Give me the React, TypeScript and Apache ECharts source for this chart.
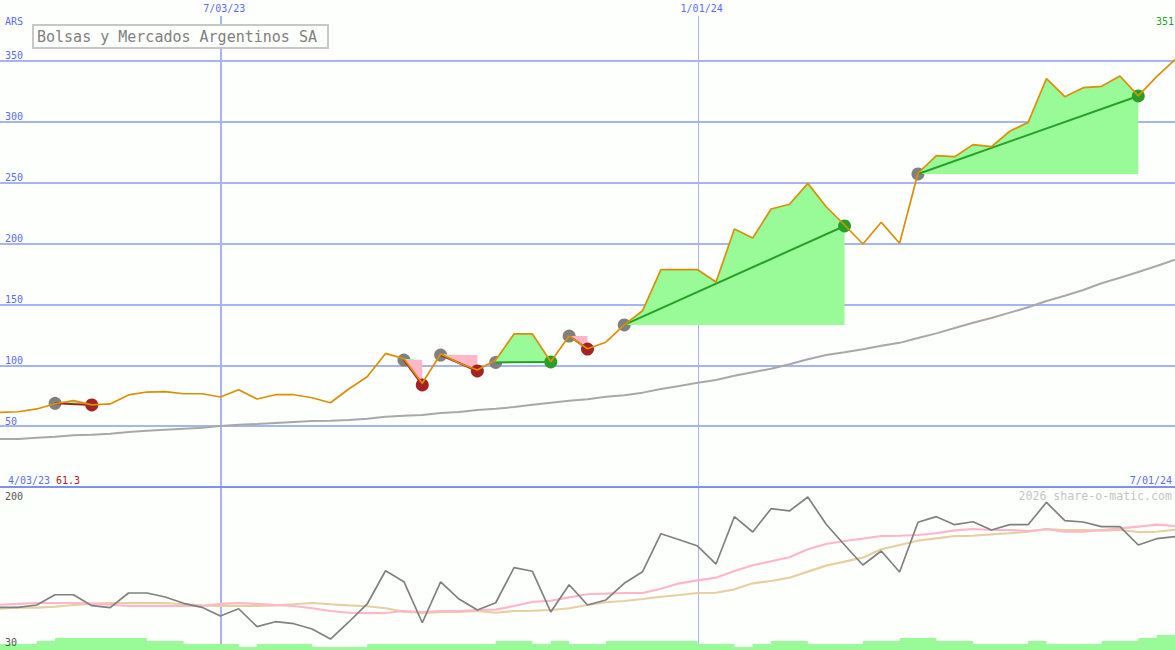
import React, { useEffect, useRef } from "react";
import * as echarts from "echarts";

const weeks = [
  "4/10/23","4/17/23","4/24/23","5/01/23","5/08/23","5/15/23","5/22/23","5/29/23","6/05/23","6/12/23","6/19/23","6/26/23","7/03/23",
  "7/10/23","7/17/23","7/24/23","7/31/23","8/07/23","8/14/23","8/21/23","8/28/23","9/04/23","9/11/23","9/18/23","9/25/23","10/02/23",
  "10/09/23","10/16/23","10/23/23","10/30/23","11/06/23","11/13/23","11/20/23","11/27/23","12/04/23","12/11/23","12/18/23","12/25/23","1/01/24",
  "1/08/24","1/15/24","1/22/24","1/29/24","2/05/24","2/12/24","2/19/24","2/26/24","3/04/24","3/11/24","3/18/24","3/25/24","4/01/24","4/08/24",
  "4/15/24","4/22/24","4/29/24","5/06/24","5/13/24","5/20/24","5/27/24","6/03/24","6/10/24","6/17/24","6/24/24","7/01/24",
];

const price = [
  61.3,61.8,64.1,68.4,70.9,67.4,68.2,75.6,78.0,78.3,76.6,76.6,73.9,79.9,72.3,75.8,75.8,73.3,69.2,80.5,90.6,109.7,105.4,85.2,109.2,101.8,
  96.1,104.3,125.7,125.7,102.9,124,113.6,118.9,133.1,144.8,178.5,178.5,178.5,168.4,211.9,204.5,228.3,232.2,249.4,230.2,215.2,199.6,217.4,200.2,
  257.7,272.1,271.3,281.2,279.5,292.2,299.5,335.4,320.6,328,329.1,337.6,321.2,337,351,
];

const longAverage = [
  39.4,39.4,40.5,41.3,42.5,43.0,43.8,45.2,46.2,47.1,47.9,48.7,50.1,51.2,51.7,52.6,53.4,54.2,54.5,55.0,56.1,57.7,58.6,59.1,60.8,61.6,
  63.2,64.3,65.7,67.6,69.2,70.9,72.0,74.2,75.3,77.5,80.5,83.0,85.7,87.9,91.4,94.2,97.2,100.8,104.9,108.4,110.6,113.1,116.1,118.4,
  122.4,126.2,130.6,134.9,138.8,143.2,147.6,152.8,157.1,161.8,167.3,171.9,176.6,181.5,186.7,
];

const strength = [
  74.8,74.8,77.2,88,88,76.5,74.4,89.8,89.8,85.6,79,74.8,65.7,73.3,54.5,59.7,57.6,52,41.5,59.4,78.3,113.2,101.7,58.6,101.4,83.5,
  72,79.6,116.4,112.6,69.9,98.5,77.2,82.5,100,112.2,152,145.7,139.1,120.2,169.9,153.8,178.3,175.9,190.6,161.9,140.2,119.2,133.9,111.9,
  164,169.9,161.5,164.6,155.9,161.5,161.5,185,165.7,164.3,159.4,159.4,140.2,146.8,148.9,
];

const strengthFast = [
  77.5,78.3,79.3,79.3,79.3,78.6,77.5,76.2,76.2,76.2,76.2,76.2,78.3,79.3,78.3,77.2,76.2,73.8,70.9,69.1,68.8,68.8,70.9,69.9,70.9,70.9,
  72,72.3,76.2,80.4,81.7,85.3,88.5,89.1,89.8,89.8,94.3,100,103.1,105.9,112.9,118.9,123.1,127.3,135.7,141.2,144.4,146.8,149.6,149.9,
  150.7,152.5,155.6,157,155.9,155.9,154.9,156.7,154.1,154.1,155.9,157.7,159.4,161.5,160.1,
];

const strengthSlow = [
  73.3,74.8,74.4,75.4,77.2,78.3,79.3,79.3,79.3,79.3,78,76.9,76.2,76.2,76.2,76.9,78,79.3,78,76.9,75.9,73.8,70.2,68.8,69.6,69.9,
  70.9,69.1,70.9,71.2,72,73.8,77.2,80.1,81.4,83.5,85.9,87.7,89.8,90.1,93.7,100,102.4,105.9,112.2,118.5,122.7,126.9,135.7,140.2,
  144.7,147.2,149.6,149.9,151.4,152.5,154.1,157,155.9,155.9,155.2,155.9,153.8,154.1,156.2,
];

const volumeLevels = [
  2,2,3,4,4,4,4,4,3,3,2,2,2,1,2,2,2,1,1,1,2,2,2,2,2,2,2,3,3,2,3,2,2,3,3,3,3,3,2,2,1,2,3,3,2,2,2,3,3,4,4,3,3,2,2,2,3,2,2,2,3,3,4,5,5,
];

// [entry week index, exit week index, entry value, exit value]
const trades = [
  [3, 5, 68.7, 67.4],
  [22, 23, 104.3, 83.8],
  [24, 26, 108.4, 95.3],
  [27, 30, 102.3, 102.7],
  [31, 32, 124, 113.3],
  [34, 46, 133.1, 214.4],
  [50, 62, 257.1, 321.2],
];

const BG = "#fdfffd";
const GRID = "#a6b4f0";
const TICK = "#5a6cf2";
const ORANGE = "#da8f06";
const GREEN = "#28a028";
const RED = "#a52222";
const FILL_GREEN = "#98fb98";
const FILL_PINK = "#ffb6c8";
const MONO = '"DejaVu Sans Mono", monospace';
const YEAR_WEEK = 38;

const renderTrade = (_: any, api: any) => {
  const start = api.value(0);
  const end = api.value(1);
  const level = api.value(2);
  const exit = api.value(3);
  const upper: number[][] = [api.coord([start, level])];
  const lower: number[][] = [api.coord([start, level])];
  for (let k = start; k <= end; k++) {
    upper.push(api.coord([k, Math.max(price[k], level)]));
    lower.push(api.coord([k, Math.min(price[k], level)]));
  }
  upper.push(api.coord([end, level]));
  lower.push(api.coord([end, level]));
  const a = api.coord([start, level]);
  const b = api.coord([end, exit]);
  return {
    type: "group",
    children: [
      { type: "polygon", shape: { points: upper }, style: { fill: FILL_GREEN } },
      { type: "polygon", shape: { points: lower }, style: { fill: FILL_PINK } },
      {
        type: "line",
        shape: { x1: a[0], y1: a[1], x2: b[0], y2: b[1] },
        style: { stroke: exit >= level ? GREEN : RED, lineWidth: 2, fill: "none" },
      },
    ],
  };
};

const renderYearLine = (_: any, api: any) => {
  const a = api.coord([api.value(0), api.value(1)]);
  const b = api.coord([api.value(0), api.value(2)]);
  const x = Math.round(a[0]) + 0.5;
  return {
    type: "line",
    shape: { x1: x, y1: a[1], x2: x, y2: b[1] },
    style: { stroke: GRID, lineWidth: 1, fill: "none", opacity: 1 },
  };
};

const label = (text: string, x: number, y: number, fill: string, align = "left", font = `10px ${MONO}`) => ({
  type: "text",
  z: 50,
  silent: true,
  x,
  y,
  style: { text, fill, align, verticalAlign: "middle", font },
});

const xAxisBase = {
  type: "category",
  data: weeks,
  boundaryGap: false,
  axisTick: { show: false },
  axisLine: { show: false },
  splitLine: { show: false },
};

const vLines = (withBar: boolean) => ({
  silent: true,
  symbol: "none",
  z: 1,
  animation: false,
  label: { show: false },
  lineStyle: { color: GRID, type: "solid", opacity: 1 },
  data: [
    { xAxis: "7/03/23", lineStyle: { color: GRID, width: 2, type: "solid", opacity: 1 } },
    ...(withBar ? [{ yAxis: 0, lineStyle: { color: "#7f90ee", width: 2, type: "solid", opacity: 1 } }] : []),
  ],
});

export default function App() {
  const ref = useRef<HTMLDivElement>(null);
  useEffect(() => {
    const chart = echarts.init(ref.current!, undefined, { renderer: "svg" });
    chart.setOption({
      animation: false,
      backgroundColor: BG,
      grid: [
        { left: 0, right: 0, top: 16, height: 471, containLabel: false },
        { left: 0, right: 0, top: 488, height: 162, containLabel: false },
      ],
      xAxis: [
        {
          ...xAxisBase,
          gridIndex: 0,
          position: "top",
          axisLabel: {
            show: true,
            interval: (i: number) => i === 12 || i === YEAR_WEEK,
            color: TICK,
            fontFamily: MONO,
            fontSize: 10,
            margin: 3,
            padding: [0, 0, 0, 8],
          },
        },
        { ...xAxisBase, gridIndex: 1, axisLabel: { show: false } },
      ],
      yAxis: [
        {
          type: "value",
          gridIndex: 0,
          min: 0,
          max: 386.86,
          interval: 50,
          axisLine: { show: false },
          axisTick: { show: false },
          splitLine: { show: true, showMinLine: false, showMaxLine: false, lineStyle: { color: GRID, width: 2 } },
          axisLabel: {
            inside: true,
            showMinLabel: false,
            showMaxLabel: false,
            margin: 5,
            align: "left",
            verticalAlign: "bottom",
            color: TICK,
            fontFamily: MONO,
            fontSize: 10,
          },
        },
        {
          type: "value",
          gridIndex: 1,
          min: 30,
          max: 200,
          axisLine: { show: false },
          axisTick: { show: false },
          splitLine: { show: false },
          axisLabel: { show: false },
        },
        {
          type: "value",
          gridIndex: 1,
          min: 0,
          max: 54,
          axisLine: { show: false },
          axisTick: { show: false },
          splitLine: { show: false },
          axisLabel: { show: false },
        },
      ],
      series: [
        {
          type: "custom",
          name: "Year line top",
          z: 1,
          xAxisIndex: 0,
          yAxisIndex: 0,
          clip: false,
          silent: true,
          renderItem: renderYearLine,
          encode: { x: 0, y: 1 },
          data: [[YEAR_WEEK, 0, 386.86]],
        },
        {
          type: "custom",
          name: "Year line bottom",
          z: 1,
          xAxisIndex: 1,
          yAxisIndex: 1,
          clip: false,
          silent: true,
          renderItem: renderYearLine,
          encode: { x: 0, y: 1 },
          data: [[YEAR_WEEK, 30, 200]],
        },
        {
          type: "line",
          name: "Average",
          z: 2,
          xAxisIndex: 0,
          yAxisIndex: 0,
          data: longAverage,
          symbol: "none",
          lineStyle: { color: "#a8a8a8", width: 2 },
          markLine: vLines(true),
        },
        {
          type: "scatter",
          name: "Entries",
          z: 3,
          xAxisIndex: 0,
          yAxisIndex: 0,
          symbolSize: 13,
          itemStyle: { color: "#808080", opacity: 1 },
          data: trades.map((t) => [t[0], t[2]]),
        },
        {
          type: "custom",
          name: "Trades",
          z: 4,
          xAxisIndex: 0,
          yAxisIndex: 0,
          clip: false,
          renderItem: renderTrade,
          encode: { x: 0, y: 2 },
          data: trades,
        },
        {
          type: "scatter",
          name: "Exits",
          z: 5,
          xAxisIndex: 0,
          yAxisIndex: 0,
          symbolSize: 13,
          data: trades.map((t) => ({
            value: [t[1], t[3]],
            itemStyle: { color: t[3] >= t[2] ? GREEN : RED, opacity: 1 },
          })),
        },
        {
          type: "line",
          name: "Price",
          z: 6,
          xAxisIndex: 0,
          yAxisIndex: 0,
          data: price,
          symbol: "none",
          lineStyle: { color: ORANGE, width: 1.7 },
        },
        {
          type: "line",
          name: "Volume",
          z: 3,
          xAxisIndex: 1,
          yAxisIndex: 2,
          data: volumeLevels,
          symbol: "none",
          step: "end",
          lineStyle: { width: 0 },
          areaStyle: { color: FILL_GREEN, opacity: 1 },
        },
        {
          type: "line",
          name: "Slow",
          z: 4,
          xAxisIndex: 1,
          yAxisIndex: 1,
          data: strengthSlow,
          symbol: "none",
          lineStyle: { color: "#e6cfa0", width: 2.2 },
          markLine: vLines(false),
        },
        {
          type: "line",
          name: "Fast",
          z: 4,
          xAxisIndex: 1,
          yAxisIndex: 1,
          data: strengthFast,
          symbol: "none",
          lineStyle: { color: "#ffb6c8", width: 2.2 },
        },
        {
          type: "line",
          name: "Strength",
          z: 5,
          xAxisIndex: 1,
          yAxisIndex: 1,
          data: strength,
          symbol: "none",
          lineStyle: { color: "#808080", width: 1.7 },
        },
      ],
      graphic: [
        { type: "rect", z: 40, silent: true, shape: { x: 33, y: 25, width: 295, height: 23 }, style: { fill: BG, stroke: "#c8c6c8", lineWidth: 2 } },
        label("Bolsas y Mercados Argentinos SA", 37, 36.5, "#808080", "left", `15px ${MONO}`),
        label("ARS", 5, 21, TICK),
        label("351", 1174, 21, GREEN, "right"),
        label("4/03/23", 8, 480, TICK),
        label("61.3", 56, 480, RED),
        label("7/01/24", 1172, 480, TICK, "right"),
        label("200", 5, 496, "#555555"),
        label("30", 5, 642, "#555555"),
        label("2026 share-o-matic.com", 1172, 496, "#c4c4c4", "right", `11.6px ${MONO}`),
      ],
    });
    return () => chart.dispose();
  }, []);
  return <div ref={ref} style={{ position: "absolute", left: 0, top: 0, width: 1175, height: 650 }} />;
}
